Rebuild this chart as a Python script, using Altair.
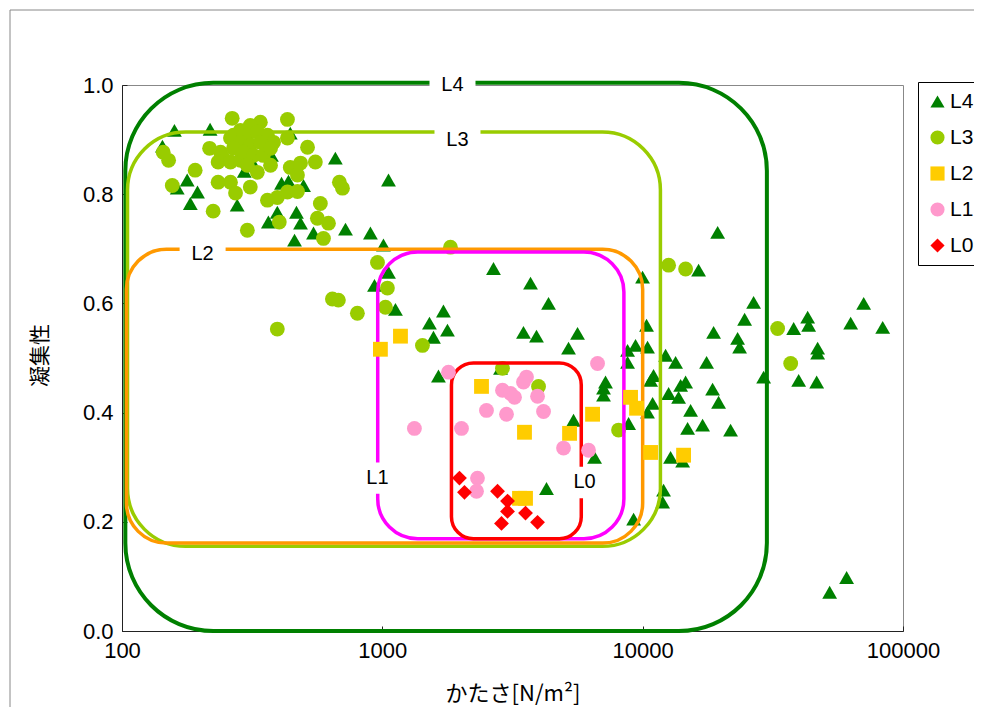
import altair as alt
import pandas as pd

# ---------------- data ----------------
series_names = ["L4", "L3", "L2", "L1", "L0"]
series_colors = ["#008000", "#99CC00", "#FFCC00", "#FF99CC", "#FF0000"]
series_shapes = ["triangle-up", "circle", "square", "circle", "diamond"]

L4_points = [
    (143, 0.888), (159, 0.917), (218, 0.919), (443, 0.912), (660, 0.866), (178, 0.826),
    (163, 0.811), (195, 0.804), (183, 0.783), (277, 0.780), (295, 0.842), (314, 0.862),
    (375, 0.871), (1056, 0.826), (365, 0.749), (395, 0.767), (468, 0.767), (485, 0.747),
    (544, 0.729), (460, 0.716), (722, 0.736), (900, 0.729), (1010, 0.707), (410, 0.820),
    (436, 0.824), (498, 0.816),
    (1056, 0.657), (933, 0.633), (1123, 0.589), (2673, 0.664), (3709, 0.637), (4349, 0.600),
    (1717, 0.586), (1517, 0.564), (1779, 0.551), (1572, 0.538), (3485, 0.547), (3910, 0.540),
    (5621, 0.545), (5191, 0.518), (1643, 0.467), (2844, 0.481), (9990, 0.648), (10350, 0.560),
    (8750, 0.514), (9390, 0.523), (10440, 0.520), (8750, 0.492), (12250, 0.505), (13380, 0.492),
    (11010, 0.468), (10730, 0.459), (7200, 0.456), (7074, 0.445), (7074, 0.432), (12580, 0.435),
    (13990, 0.450), (14620, 0.456), (13740, 0.428), (10920, 0.417), (10440, 0.401), (15280, 0.404),
    (8830, 0.380), (14880, 0.371), (16990, 0.377), (5426, 0.386), (6535, 0.318), (4272, 0.261),
    (12800, 0.318), (14240, 0.311), (12030, 0.258), (11930, 0.236), (9230, 0.205),
    (19410, 0.730), (16400, 0.661), (26680, 0.602), (24640, 0.571), (18730, 0.547), (23160, 0.536),
    (23570, 0.520), (17600, 0.492), (18560, 0.443), (19570, 0.419), (21760, 0.368), (29150, 0.465),
    (70630, 0.600), (62950, 0.564), (83560, 0.556), (38020, 0.554), (43030, 0.575), (43410, 0.560),
    (47000, 0.518), (47000, 0.509), (39740, 0.459), (46600, 0.456), (60740, 0.098), (52280, 0.071),
]

L3_points = [
    (265, 0.939), (432, 0.937), (340, 0.932), (311, 0.926), (285, 0.917), (268, 0.908),
    (303, 0.908), (331, 0.914), (362, 0.908), (382, 0.895), (261, 0.903), (285, 0.895),
    (311, 0.890), (340, 0.895), (432, 0.903), (516, 0.886), (217, 0.884), (239, 0.877),
    (245, 0.866), (234, 0.859), (261, 0.859), (285, 0.862), (268, 0.884), (293, 0.877),
    (320, 0.871), (349, 0.871), (372, 0.884), (303, 0.853), (331, 0.840), (372, 0.853),
    (144, 0.877), (151, 0.862), (191, 0.844), (443, 0.849), (485, 0.857), (553, 0.859),
    (472, 0.835), (156, 0.816), (234, 0.822), (261, 0.822), (273, 0.802), (311, 0.813),
    (224, 0.769), (362, 0.789), (395, 0.794), (432, 0.804), (472, 0.805), (578, 0.783),
    (684, 0.822), (703, 0.811), (303, 0.734), (402, 0.749), (563, 0.756), (621, 0.747),
    (594, 0.719), (958, 0.675), (1046, 0.628), (643, 0.608), (678, 0.606), (802, 0.582),
    (1028, 0.593), (395, 0.553), (1426, 0.523), (1827, 0.703), (2894, 0.481), (3981, 0.448),
    (8080, 0.368), (12580, 0.670), (14620, 0.663), (32990, 0.554), (37030, 0.490),
]

L2_points = [
    (1174, 0.540), (983, 0.516), (2404, 0.448), (3516, 0.364), (5238, 0.362), (6420, 0.397),
    (8984, 0.428), (9475, 0.408), (10730, 0.327), (14360, 0.322), (3364, 0.243), (3548, 0.243),
]

L1_points = [
    (1795, 0.474), (6709, 0.490), (2894, 0.441), (3107, 0.435), (3219, 0.428), (3485, 0.456),
    (3579, 0.465), (3946, 0.430), (2512, 0.404), (2999, 0.397), (4161, 0.402), (1328, 0.371),
    (2014, 0.371), (4966, 0.335), (6196, 0.331), (2320, 0.280), (2300, 0.256),
]

L0_points = [
    (1978, 0.280), (2068, 0.254), (2770, 0.256), (3026, 0.238), (3026, 0.219), (2869, 0.197),
    (3548, 0.216), (3946, 0.199),
]

# rounded zones drawn over the scatter
zone_names = ["L4", "L3", "L2", "L1", "L0"]
zone_left = [103, 105, 104, 960, 1843]
zone_right = [30000, 11700, 10000, 8470, 5810]
zone_top = [1.004, 0.914, 0.699, 0.694, 0.491]
zone_bottom = [0.0, 0.155, 0.161, 0.169, 0.169]
zone_label_x = [1860, 1944, 204, 958, 5980]
zone_label_y = [1.0, 0.899, 0.690, 0.280, 0.272]

# styles
zone_colors = ["#008000", "#99CC00", "#FF9900", "#FF00FF", "#FF0000"]
zone_radius = [88, 58, 40, 40, 22]
zone_stroke = [4, 3.5, 3.5, 3.5, 3.5]

x_ticks = [100, 1000, 10000, 100000]
y_ticks = [0.0, 0.2, 0.4, 0.6, 0.8, 1.0]

# ---------------- tables ----------------
rows = []
for name, pts in zip(series_names, [L4_points, L3_points, L2_points, L1_points, L0_points]):
    for x, y in pts:
        rows.append({"series": name, "x": x, "y": y})
points = pd.DataFrame(rows)

zones = pd.DataFrame({
    "name": zone_names, "x1": zone_left, "x2": zone_right,
    "y1": zone_bottom, "y2": zone_top,
    "lx": zone_label_x, "ly": zone_label_y,
})

xscale = alt.Scale(type="log", domain=[100, 100000], nice=False)
yscale = alt.Scale(domain=[0, 1], nice=False, zero=False)

LATIN = "Liberation Sans"
JP = "Noto Sans CJK JP"

x_axis = alt.Axis(
    values=x_ticks, format="d", title="かたさ[N/m²]", labelFlush=False,
    labelOverlap=False, labelFontSize=22, labelFont=LATIN, labelPadding=14,
    titleFont=JP, titleFontSize=22, titleFontWeight="normal",
    titleY=62, titleBaseline="middle",
    ticks=True, tickSize=alt.ExprRef("-5"), tickColor="#222222",
)
y_axis = alt.Axis(
    values=y_ticks, format=".1f", title="凝集性", labelFontSize=22,
    labelFont=LATIN, labelPadding=14, labelFlush=False, labelOverlap=False,
    titleFont=JP, titleFontSize=21, titleFontWeight="normal",
    titleX=-82, titleY=270, titleAngle=-90, titleAlign="center",
    titleBaseline="middle",
    ticks=True, tickSize=alt.ExprRef("-5"), tickColor="#222222",
)

legend = alt.Legend(
    title=None, orient="none", legendX=796, legendY=-3,
    strokeColor="black", fillColor="white", padding=9,
    labelFontSize=21, labelFont=LATIN, labelColor="black",
    symbolSize=200, symbolStrokeWidth=0, rowPadding=14, labelOffset=2,
)

color_enc = alt.Color("series:N", scale=alt.Scale(domain=series_names, range=series_colors),
                      legend=legend, sort=series_names)
shape_enc = alt.Shape("series:N", scale=alt.Scale(domain=series_names, range=series_shapes),
                      legend=legend, sort=series_names)

# outer chart-area frame (decoration only)
frame = alt.Chart(zones).transform_filter(alt.datum.name == "L4").mark_rect(
    fillOpacity=0, stroke="#888888", strokeWidth=1
).encode(
    x=alt.value(-112), x2=alt.value(880), y=alt.value(-75), y2=alt.value(640)
)

base_pts = alt.Chart(points).mark_point(filled=True, size=220, opacity=1, strokeWidth=0)

pts_back = base_pts.transform_filter(
    alt.FieldOneOfPredicate(field="series", oneOf=["L4", "L3"])
).encode(
    x=alt.X("x:Q", scale=xscale, axis=x_axis),
    y=alt.Y("y:Q", scale=yscale, axis=y_axis),
    color=color_enc, shape=shape_enc,
)

pts_front = base_pts.transform_filter(
    alt.FieldOneOfPredicate(field="series", oneOf=["L2", "L1", "L0"])
).encode(
    x=alt.X("x:Q", scale=xscale),
    y=alt.Y("y:Q", scale=yscale),
    color=color_enc, shape=shape_enc,
)

zone_layers = []
for name, col, rad, sw in zip(zone_names, zone_colors, zone_radius, zone_stroke):
    zone_layers.append(
        alt.Chart(zones).transform_filter(alt.datum.name == name).mark_rect(
            fillOpacity=0, stroke=col, strokeWidth=sw, cornerRadius=rad
        ).encode(
            x=alt.X("x1:Q", scale=xscale), x2="x2:Q",
            y=alt.Y("y1:Q", scale=yscale), y2="y2:Q",
        )
    )

label_boxes = alt.Chart(zones).mark_point(
    shape="M-1,-0.68H1V0.68H-1Z", size=2116, filled=True, color="white",
    opacity=1, strokeWidth=0,
).encode(x=alt.X("lx:Q", scale=xscale), y=alt.Y("ly:Q", scale=yscale))

label_text = alt.Chart(zones).mark_text(
    font=LATIN, fontSize=20, color="black", baseline="middle", align="center"
).encode(x=alt.X("lx:Q", scale=xscale), y=alt.Y("ly:Q", scale=yscale), text="name:N")

chart = alt.layer(
    pts_back, frame, *zone_layers, label_boxes, label_text, pts_front
).properties(
    width=781, height=546,
    padding={"left": 114, "top": 77, "right": 71, "bottom": 76},
    autosize=alt.AutoSizeParams(type="none"),
).configure_view(
    stroke="#888888", strokeWidth=1
).configure_axis(
    grid=False, domainColor="#222222", labelColor="black", titleColor="black"
)

chart.save("out.html", embed_options={"renderer": "svg", "actions": False})
